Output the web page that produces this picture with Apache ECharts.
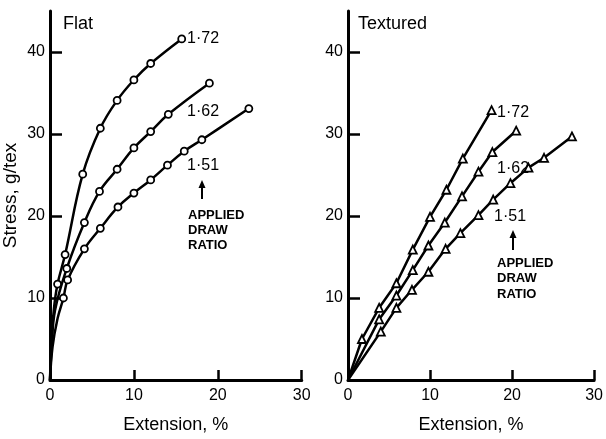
<!DOCTYPE html>
<html>
<head>
<meta charset="utf-8">
<script src="https://cdn.jsdelivr.net/npm/echarts@6/dist/echarts.min.js"></script>
<style>html,body{margin:0;padding:0;background:#fff}#c{width:606px;height:439px}</style>
</head>
<body>
<div id="c"></div>
<script>
// ---- data (extension %, stress g/tex) ----
const xTicks = [0, 10, 20, 30];
const yTicks = [0, 10, 20, 30, 40];
const seriesNames = ['1·72', '1·62', '1·51'];
const panelTitles = ['Flat', 'Textured'];

// Flat: unmarked initial steep rise, then measured points
const flatLead172 = [[0, 0], [0.15, 4], [0.45, 8.5]];
const flatPts172 = [[0.9, 11.7], [1.8, 15.3], [3.9, 25.1], [6.0, 30.7], [8.0, 34.1], [10.0, 36.6], [12.0, 38.6], [15.7, 41.6]];
const flatLead162 = [[0, 0], [0.2, 4], [0.6, 8.5]];
const flatPts162 = [[2.0, 13.6], [4.1, 19.2], [5.9, 23.0], [8.0, 25.7], [10.0, 28.3], [12.0, 30.3], [14.1, 32.4], [19.0, 36.2]];
const flatLead151 = [[0, 0], [0.3, 4], [0.9, 7.5]];
const flatPts151 = [[1.6, 10.0], [2.1, 12.2], [4.1, 16.0], [6.0, 18.5], [8.1, 21.1], [10.0, 22.8], [12.0, 24.4], [14.0, 26.2], [16.0, 27.9], [18.1, 29.3], [23.7, 33.1]];

// Textured
const texLead = [[0, 0]];
const texPts172 = [[1.7, 5.0], [3.8, 8.8], [5.9, 11.8], [7.9, 15.9], [10.0, 19.9], [12.0, 23.2], [14.0, 27.0], [17.5, 32.9]];
const texPts162 = [[3.8, 7.4], [5.9, 10.3], [7.9, 13.4], [9.8, 16.4], [11.8, 19.2], [13.9, 22.4], [15.9, 25.4], [17.6, 27.8], [20.5, 30.4]];
const texPts151 = [[4.0, 5.9], [5.9, 8.8], [7.8, 11.0], [9.8, 13.2], [11.9, 16.0], [13.7, 17.9], [15.9, 20.1], [17.7, 22.0], [19.8, 24.0], [22.0, 25.9], [23.9, 27.1], [27.3, 29.7]];

// ---- chart ----
const FONT = '"Liberation Sans", Arial, sans-serif';
function build(lead, pts) {
  return lead.map(p => ({ value: p, symbol: 'none' })).concat(pts.map(p => ({ value: p })));
}
function mkSeries(name, idx, lead, pts, symbol, smooth) {
  return {
    name: name, type: 'line', xAxisIndex: idx, yAxisIndex: idx,
    data: build(lead, pts),
    symbol: symbol, symbolSize: symbol === 'circle' ? 7 : 8,
    showAllSymbol: true,
    smooth: smooth,
    lineStyle: { color: '#000', width: 2.5 },
    itemStyle: { color: '#fff', borderColor: '#000', borderWidth: 1.8 },
    emphasis: { disabled: true },
    z: 3, animation: false
  };
}
function xAx(idx) {
  return {
    type: 'value', gridIndex: idx, min: 0, max: 30,
    name: 'Extension, %', nameLocation: 'middle', nameGap: 36,
    nameTextStyle: { color: '#000', fontSize: 18, fontFamily: FONT },
    axisLine: { show: true, onZero: false, lineStyle: { color: '#000', width: 3 } },
    axisTick: { show: true, inside: true, length: 10, customValues: xTicks, lineStyle: { color: '#000', width: 2.5 } },
    axisLabel: { color: '#000', fontSize: 16, fontFamily: FONT, margin: 8, customValues: xTicks },
    splitLine: { show: false }
  };
}
function yAx(idx, withName) {
  return {
    type: 'value', gridIndex: idx, min: 0, max: 45,
    name: withName ? 'Stress, g/tex' : '', nameLocation: 'middle', nameGap: 30,
    nameTextStyle: { color: '#000', fontSize: 19, fontFamily: FONT },
    axisLine: { show: true, onZero: false, lineStyle: { color: '#000', width: 3 } },
    axisTick: { show: true, inside: true, length: 12, customValues: yTicks, lineStyle: { color: '#000', width: 2.5 } },
    axisLabel: { color: '#000', fontSize: 16, fontFamily: FONT, margin: 5, customValues: yTicks },
    splitLine: { show: false }
  };
}
function txt(t, x, y, size, weight) {
  return { type: 'text', x: x, y: y, z: 10, style: { text: t, fill: '#000', font: (weight || 'normal') + ' ' + size + 'px ' + FONT, verticalAlign: 'middle', align: 'left' } };
}
function arrow(x, yTop, yBot) {
  return [
    { type: 'line', z: 10, shape: { x1: x, y1: yTop + 5, x2: x, y2: yBot }, style: { stroke: '#000', lineWidth: 2 } },
    { type: 'polygon', z: 10, shape: { points: [[x - 3.5, yTop + 8], [x + 3.5, yTop + 8], [x, yTop]] }, style: { fill: '#000' } }
  ];
}

const chart = echarts.init(document.getElementById('c'), null, { renderer: 'canvas' });
chart.setOption({
  backgroundColor: '#fff',
  animation: false,
  grid: [
    { left: 49, top: 11, width: 252.7, height: 375.7 },
    { left: 348, top: 11, width: 250.7, height: 375.7 }
  ],
  xAxis: [xAx(0), xAx(1)],
  yAxis: [yAx(0, true), yAx(1, false)],
  series: [
    mkSeries(seriesNames[0], 0, flatLead172, flatPts172, 'circle', 0.4),
    mkSeries(seriesNames[1], 0, flatLead162, flatPts162, 'circle', 0.4),
    mkSeries(seriesNames[2], 0, flatLead151, flatPts151, 'circle', 0.4),
    mkSeries(seriesNames[0], 1, texLead, texPts172, 'triangle', false),
    mkSeries(seriesNames[1], 1, texLead, texPts162, 'triangle', false),
    mkSeries(seriesNames[2], 1, texLead, texPts151, 'triangle', false)
  ],
  graphic: [
    txt(panelTitles[0], 63, 24, 18),
    txt(panelTitles[1], 358, 24, 18),
    txt(seriesNames[0], 187, 39, 16),
    txt(seriesNames[1], 187, 112, 16),
    txt(seriesNames[2], 187, 166, 16),
    txt('APPLIED', 188, 215, 13, 'bold'),
    txt('DRAW', 188, 230, 13, 'bold'),
    txt('RATIO', 188, 245, 13, 'bold'),
    txt(seriesNames[0], 497, 113, 16),
    txt(seriesNames[1], 497, 169, 16),
    txt(seriesNames[2], 494, 217, 16),
    txt('APPLIED', 497, 263, 13, 'bold'),
    txt('DRAW', 497, 278, 13, 'bold'),
    txt('RATIO', 497, 294, 13, 'bold')
  ].concat(arrow(202, 180, 199)).concat(arrow(513, 230, 250))
});
</script>
</body>
</html>
